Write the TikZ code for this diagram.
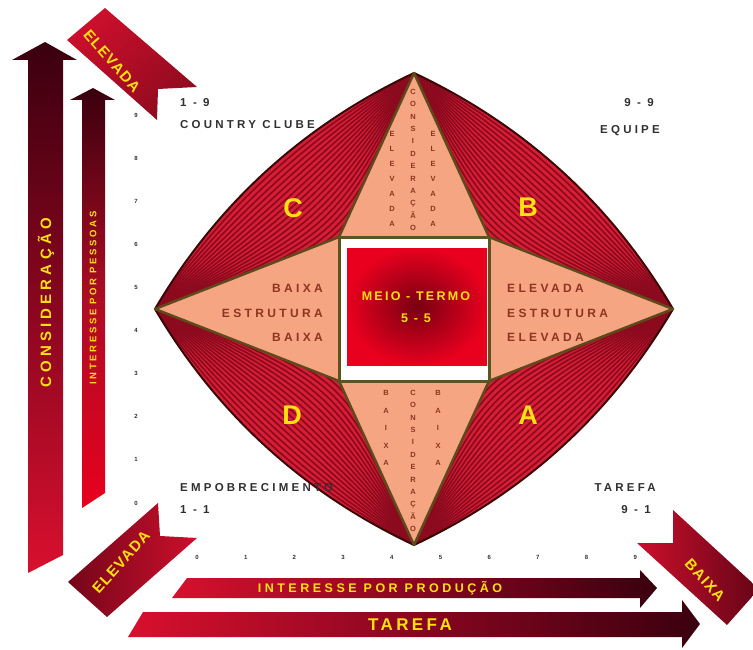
\documentclass[tikz,border=0pt]{standalone}
\usepackage{fontspec}
\setmainfont{Liberation Sans}
\usetikzlibrary{calc}
\definecolor{dkred}{HTML}{3A000E}
\definecolor{midred}{HTML}{8A0620}
\definecolor{brred}{HTML}{D8102E}
\definecolor{rib}{HTML}{CC0F2C}
\definecolor{peach}{HTML}{F5A582}
\definecolor{lens}{HTML}{D81E36}
\definecolor{stripe}{HTML}{8C0A1E}
\definecolor{olive}{HTML}{5E4A1A}
\definecolor{sqline}{HTML}{5A5420}
\definecolor{outl}{HTML}{3A0606}
\definecolor{gold}{HTML}{FFE010}
\definecolor{brn}{HTML}{8E3420}
\definecolor{graytxt}{HTML}{303030}
\definecolor{ctrred}{HTML}{E8001E}
\definecolor{ctrdark}{HTML}{780012}
\newcommand\lsp[1]{\addfontfeatures{LetterSpace=#1}}
\newcommand\bsz[2]{\bfseries\fontsize{#1}{#2}\selectfont}
\tikzset{
  lbl/.style={text=graytxt, font=\bsz{11.5}{13}\lsp{28}, inner sep=0pt},
  tick/.style={text=graytxt, font=\bsz{6}{7}, inner sep=0pt},
  quad/.style={text=gold, font=\bsz{27}{30}, inner sep=0pt},
  tritxt/.style={text=brn, font=\bsz{12}{24.5}\lsp{28}, inner sep=0pt},
  stacktxt/.style={text=brn, font=\bsz{7.5}{#1}, align=center, inner sep=0pt},
  ctrtxt/.style={text=gold, font=\bsz{12.5}{13}\lsp{18}, inner sep=0pt},
  arrtxt/.style={text=gold, font=\bsz{#1}{#1}\lsp{28}, inner sep=0pt},
  ribtxt/.style={text=gold, font=\bsz{15}{15}\lsp{8}, inner sep=0pt},
  stripeline/.style={draw=stripe, line width=1.7pt},
  staredge/.style={draw=olive, line width=2.5pt, line join=round},
  outeredge/.style={draw=outl, line width=2pt},
}
\begin{document}
\begin{tikzpicture}[x=1pt,y=-1pt]
\useasboundingbox (0,0) rectangle (753,650);
\clip (0,0) rectangle (753,650);
\fill[white] (0,0) rectangle (753,650);

% ---------- key points of the grid diamond ----------
\coordinate (T) at (414,73);
\coordinate (R) at (673,309);
\coordinate (B) at (414,545);
\coordinate (L) at (155,309);
\coordinate (Q1) at (339,237);
\coordinate (Q2) at (489,237);
\coordinate (Q3) at (489,381);
\coordinate (Q4) at (339,381);
\coordinate (UL1) at (217.1,203.7);
\coordinate (UL2) at (303.5,125.1);
\coordinate (UR1) at (524.5,125.1);
\coordinate (UR2) at (610.9,203.7);
\coordinate (LR1) at (610.9,414.3);
\coordinate (LR2) at (524.5,492.9);
\coordinate (LL1) at (303.5,492.9);
\coordinate (LL2) at (217.1,414.3);
\coordinate (P1) at (357.2,252.3);
\coordinate (P2) at (470.8,252.3);
\coordinate (P3) at (470.8,365.7);
\coordinate (P4) at (357.2,365.7);

% ---------- left vertical arrows ----------
\shade[top color=dkred, bottom color=brred, middle color=midred]
  (28,573) -- (28,60) -- (12,60) -- (45,42) -- (77,60) -- (63,60) -- (63,555) -- cycle;
\shade[top color=dkred, bottom color=ctrred, middle color=brred!80!black]
  (82,508) -- (82,100) -- (70,100) -- (93,88) -- (115,100) -- (105,100) -- (105,493) -- cycle;
\node[arrtxt=15, rotate=90] (cons) at (46,303) {CONSIDERAÇÃO};
\node[arrtxt=9.5, rotate=90] (ipp) at (93,298) {INTERESSE POR PESSOAS};

% ---------- bottom horizontal arrows ----------
\shade[left color=brred, right color=dkred, middle color=midred]
  (172,598) -- (187,578) -- (640,578) -- (640,570) -- (657,588) -- (640,608) -- (640,598) -- cycle;
\shade[left color=brred, right color=dkred, middle color=midred]
  (128,637) -- (143,612) -- (682,612) -- (682,600) -- (700,624) -- (682,648) -- (682,637) -- cycle;
\node[arrtxt=12.5] (iprod) at (380,588) {INTERESSE POR PRODUÇÃO};
\node[arrtxt=16, font=\bsz{17}{17}\lsp{20}] (tar) at (410,625) {TAREFA};

% ---------- ribbons ----------
\shade[left color=rib, right color=rib!70!black, shading angle=40]
  (67,40) -- (105,8) -- (197,87) -- (158,89) -- (157,120) -- cycle;
\node[ribtxt, rotate=-49] (elev1) at (112,61) {ELEVADA};
\shade[left color=dkred!60!rib, right color=rib]
  (68,582) -- (158,503) -- (160,536) -- (197,538) -- (107,617) -- cycle;
\node[ribtxt, rotate=48] (elev2) at (121,562) {ELEVADA};
\shade[left color=rib, right color=dkred!70!rib]
  (673,510) -- (759,589) -- (727,625) -- (637,543) -- (673,543) -- cycle;
\node[ribtxt, rotate=-48] (baixa) at (705,580) {BAIXA};

% ---------- axis ticks ----------
\foreach \k in {0,...,9} {
  \node[tick] (yt\k) at (136,{503-43.1*\k}) {\k};
  \node[tick] (xt\k) at ({197+48.7*\k},557) {\k};
}

% ---------- star ----------
\fill[peach] (T) -- (Q2) -- (R) -- (Q3) -- (B) -- (Q4) -- (L) -- (Q1) -- cycle;

% ---------- striped lenses ----------
\foreach \a/\b/\c/\d/\q/\p in {L/UL1/UL2/T/Q1/P1, T/UR1/UR2/R/Q2/P2, R/LR1/LR2/B/Q3/P3, B/LL1/LL2/L/Q4/P4} {
  \begin{scope}
    \clip (\a) .. controls (\b) and (\c) .. (\d) -- (\q) -- cycle;
    \fill[lens] (\a) .. controls (\b) and (\c) .. (\d) -- (\q) -- cycle;
    \foreach \s in {0.05,0.1,...,0.96}
      \draw[stripeline] (\a) .. controls ($(\b)!\s!(\p)$) and ($(\c)!\s!(\p)$) .. (\d);
  \end{scope}
  \draw[outeredge] (\a) .. controls (\b) and (\c) .. (\d);
}
\draw[staredge] (T) -- (Q2) -- (R) -- (Q3) -- (B) -- (Q4) -- (L) -- (Q1) -- cycle;

% ---------- centre square ----------
\draw[sqline, line width=3pt, fill=white] (Q1) rectangle (Q3);
\shade[inner color=ctrdark, outer color=ctrred] (347,248) rectangle (487,365);
\node[ctrtxt] (meio) at (416,296) {MEIO - TERMO};
\node[ctrtxt] (cinco) at (416,318) {5 - 5};

% ---------- quadrant letters ----------
\node[quad] (qc) at (293,208) {C};
\node[quad] (qb) at (528,207) {B};
\node[quad] (qd) at (292,415) {D};
\node[quad] (qa) at (528,415) {A};

% ---------- side triangles ----------
\node[tritxt, align=right, anchor=east] (lefttri) at (323,313) {BAIXA\\ESTRUTURA\\BAIXA};
\node[tritxt, align=left, anchor=west] (righttri) at (507,313) {ELEVADA\\ESTRUTURA\\ELEVADA};

% ---------- stacked words ----------
\node[stacktxt=15] (te1) at (392,179) {E\\L\\E\\V\\A\\D\\A};
\node[stacktxt=12.4] (tc) at (413,160) {C\\O\\N\\S\\I\\D\\E\\R\\A\\Ç\\Ã\\O};
\node[stacktxt=15] (te2) at (433,179) {E\\L\\E\\V\\A\\D\\A};
\node[stacktxt=17.5] (bb1) at (386,428) {B\\A\\I\\X\\A};
\node[stacktxt=12.4] (bc) at (413,461) {C\\O\\N\\S\\I\\D\\E\\R\\A\\Ç\\Ã\\O};
\node[stacktxt=17.5] (bb2) at (438,428) {B\\A\\I\\X\\A};

% ---------- corner labels ----------
\node[lbl, anchor=west] (l19) at (180,103) {1 - 9};
\node[lbl, anchor=west] (lcc) at (180,125) {COUNTRY CLUBE};
\node[lbl, anchor=east] (l99) at (654,103) {9 - 9};
\node[lbl, anchor=east] (leq) at (660,131) {EQUIPE};
\node[lbl, anchor=west] (lemp) at (180,488) {EMPOBRECIMENTO};
\node[lbl, anchor=west] (l11) at (180,510) {1 - 1};
\node[lbl, anchor=east] (ltar) at (656,488) {TAREFA};
\node[lbl, anchor=east] (l91) at (651,510) {9 - 1};
\end{tikzpicture}
\end{document}
